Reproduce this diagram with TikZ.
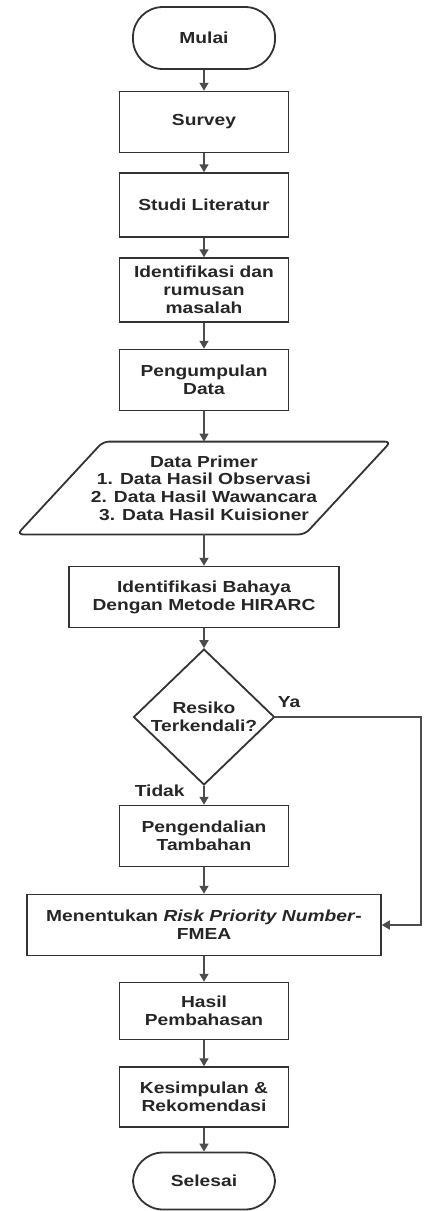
\documentclass[tikz,border=0pt]{standalone}
\usepackage{fontspec}
\setmainfont{Liberation Sans}[FakeStretch=1.2]
\usetikzlibrary{shapes.geometric, arrows.meta}
\colorlet{lineColor}{black!80}
\colorlet{arrowColor}{black!70}

\begin{document}
\begin{tikzpicture}[x=0.5pt, y=-0.5pt, >={Triangle[length=4pt, width=4.5pt]},
    every node/.style={font=\bfseries\fontsize{8}{8.9}\selectfont, text=black!85},
    proc/.style={draw=lineColor, line width=0.75pt, rectangle, minimum width=84.5pt, minimum height=30.5pt, align=center, inner sep=1pt},
    term/.style={draw=lineColor, line width=0.9pt, rectangle, rounded corners=15pt, minimum width=71pt, minimum height=31pt},
    iotext/.style={rectangle, minimum width=143.5pt, minimum height=46pt, align=center, inner sep=0pt},
    iobox/.style={draw=lineColor, line width=0.9pt, rounded corners=3pt},
    decide/.style={draw=lineColor, line width=0.9pt, diamond, minimum width=70.5pt, minimum height=50pt, inner sep=0pt, align=center},
    flow/.style={->, arrowColor, line width=0.75pt}]
    \useasboundingbox (0,0) rectangle (425,1211);

    % Awal
    \node[term] (mulai) at (204,38) {Mulai};
    \node[proc] (survey) at (204,122) {Survey};
    \node[proc, minimum height=32pt] (studi) at (204,205) {Studi Literatur};
    \node[proc, minimum height=32pt] (rumusan) at (204,290) {Identifikasi dan\\rumusan\\masalah};
    \node[proc] (data) at (204,380) {Pengumpulan\\Data};

    % Data primer
    \node[iotext] (primer) at (204,488) {Data Primer\\1. Data Hasil Observasi\\2. Data Hasil Wawancara\\3. Data Hasil Kuisioner};
    \draw[iobox] ([xshift=-21.5pt]primer.south west) -- ([xshift=-21.5pt]primer.south east)
        -- ([xshift=21.5pt]primer.north east) -- ([xshift=21.5pt]primer.north west) -- cycle;

    % Identifikasi dan keputusan
    \node[proc, minimum width=135pt] (hirarc) at (204,597) {Identifikasi Bahaya\\Dengan Metode HIRARC};
    \node[decide] (cek) at (204,717) {Resiko\\Terkendali?};
    \node[proc] (tambah) at (204,836) {Pengendalian\\Tambahan};
    \node[proc, minimum width=177pt] (rpn) at (204,925) {Menentukan \textit{Risk Priority Number}-\\FMEA};

    % Akhir
    \node[proc, minimum height=28.5pt] (hasil) at (204,1011) {Hasil\\Pembahasan};
    \node[proc, minimum height=30pt] (simpul) at (204,1097) {Kesimpulan \&\\Rekomendasi};
    \node[term, minimum height=28.5pt] (selesai) at (204,1181) {Selesai};

    % Alur utama
    \draw[flow] (mulai) -- (survey);
    \draw[flow] (survey) -- (studi);
    \draw[flow] (studi) -- (rumusan);
    \draw[flow] (rumusan) -- (data);
    \draw[flow] (data) -- (primer);
    \draw[flow] (primer) -- (hirarc);
    \draw[flow] (hirarc) -- (cek);
    \draw[flow] (cek) -- (tambah) node[pos=0.25, left=6pt] (tidak) {Tidak};
    \draw[flow] (tambah) -- (rpn);
    \draw[flow] (rpn) -- (hasil);
    \draw[flow] (hasil) -- (simpul);
    \draw[flow] (simpul) -- (selesai);

    % Cabang Ya
    \coordinate (yaR) at (421,717);
    \draw[flow] (cek.east) -- (yaR) |- (rpn.east);
    \node (ya) at (289,702) {Ya};
\end{tikzpicture}
\end{document}
